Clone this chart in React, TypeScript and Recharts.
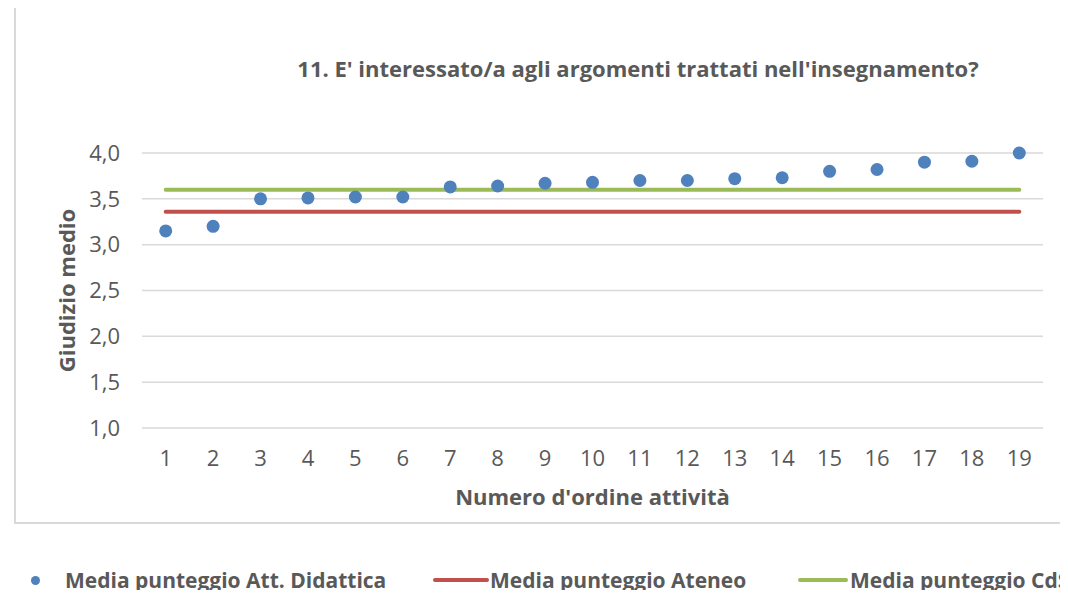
import { ComposedChart, Line, Scatter, XAxis, YAxis, CartesianGrid } from 'recharts';

// Numero d'ordine attività (asse X)
const categories = ['1', '2', '3', '4', '5', '6', '7', '8', '9', '10', '11', '12', '13', '14', '15', '16', '17', '18', '19'];

// Media punteggio Att. Didattica, una per attività
const attDidattica = [3.15, 3.2, 3.5, 3.51, 3.52, 3.52, 3.63, 3.64, 3.67, 3.68, 3.7, 3.7, 3.72, 3.73, 3.8, 3.82, 3.9, 3.91, 4.0];

// medie di riferimento (costanti su tutte le attività)
const mediaAteneo = [3.36, 3.36, 3.36, 3.36, 3.36, 3.36, 3.36, 3.36, 3.36, 3.36, 3.36, 3.36, 3.36, 3.36, 3.36, 3.36, 3.36, 3.36, 3.36];
const mediaCdS = [3.6, 3.6, 3.6, 3.6, 3.6, 3.6, 3.6, 3.6, 3.6, 3.6, 3.6, 3.6, 3.6, 3.6, 3.6, 3.6, 3.6, 3.6, 3.6];

const yTicks = [1, 1.5, 2, 2.5, 3, 3.5, 4];

const SERIES = [
  { key: 'att', name: 'Media punteggio Att. Didattica', color: '#4f81bd' },
  { key: 'ateneo', name: 'Media punteggio Ateneo', color: '#c0504d' },
  { key: 'cds', name: 'Media punteggio CdS', color: '#9bbb59' },
];

const FONT = '"Open Sans", Lato, sans-serif';
const TEXT = '#595959';

const data = categories.map((cat, i) => ({
  cat,
  att: attDidattica[i],
  ateneo: mediaAteneo[i],
  cds: mediaCdS[i],
}));

const fmt = (v: number) => v.toFixed(1).replace('.', ',');

export default function App() {
  return (
    <div style={{ position: 'relative', width: 1068, height: 598, overflow: 'hidden', margin: -8, background: '#fff', fontFamily: FONT }}>
      {/* riquadro dell'area grafico (il lato destro esce dall'immagine) */}
      <div
        style={{
          position: 'absolute',
          left: 14,
          top: 6,
          width: 1100,
          height: 518,
          borderTop: '2px solid #d9d9d9',
          borderLeft: '2px solid #d9d9d9',
          borderBottom: '2px solid #d9d9d9',
          boxSizing: 'border-box',
        }}
      />
      <div
        style={{
          position: 'absolute',
          left: 638,
          top: 53,
          transform: 'translateX(-50%)',
          whiteSpace: 'nowrap',
          fontSize: 22,
          fontWeight: 700,
          color: TEXT,
          lineHeight: '30px',
        }}
      >
        11. E' interessato/a agli argomenti trattati nell'insegnamento?
      </div>
      <div style={{ position: 'absolute', left: 0, top: 0 }}>
        <ComposedChart width={1100} height={598} data={data} margin={{ top: 153, right: 57, bottom: 90, left: 12 }}>
          <CartesianGrid vertical={false} stroke="#d9d9d9" strokeWidth={1.5} />
          <XAxis
            dataKey="cat"
            axisLine={false}
            tickLine={false}
            tickMargin={16}
            height={80}
            padding={{ left: 23.7, right: 23.7 }}
            tick={{ fontSize: 22, fill: TEXT, fontFamily: FONT }}
            label={{
              value: "Numero d'ordine attività",
              position: 'insideBottom',
              offset: 3,
              style: { fontSize: 22, fontWeight: 700, fill: TEXT, fontFamily: FONT },
            }}
          />
          <YAxis
            domain={[1, 4]}
            ticks={yTicks}
            tickFormatter={fmt}
            axisLine={false}
            tickLine={false}
            tickMargin={16}
            width={130}
            tick={{ fontSize: 22, fill: TEXT, fontFamily: FONT }}
            label={{
              value: 'Giudizio medio',
              angle: -90,
              position: 'center',
              dx: -10,
              style: { fontSize: 22, fontWeight: 700, fill: TEXT, fontFamily: FONT },
            }}
          />
          <Line dataKey="ateneo" stroke="#c0504d" strokeWidth={4} strokeLinecap="round" dot={false} activeDot={false} isAnimationActive={false} />
          <Line dataKey="cds" stroke="#9bbb59" strokeWidth={4} strokeLinecap="round" dot={false} activeDot={false} isAnimationActive={false} />
          <Scatter
            dataKey="att"
            fill="#4f81bd"
            isAnimationActive={false}
            shape={(p: any) => <circle cx={p.cx} cy={p.cy} r={6.5} fill="#4f81bd" />}
          />
        </ComposedChart>
      </div>
      {/* legenda */}
      <div style={{ position: 'absolute', left: 0, top: 565, width: 1100, height: 30, fontSize: 21, fontWeight: 700, color: TEXT, whiteSpace: 'nowrap', lineHeight: '30px' }}>
        <div style={{ position: 'absolute', left: 31, top: 11, width: 9, height: 9, borderRadius: '50%', background: SERIES[0].color }} />
        <div style={{ position: 'absolute', left: 65, top: 0 }}>{SERIES[0].name}</div>
        <div style={{ position: 'absolute', left: 433, top: 13, width: 56, height: 4, borderRadius: 2, background: SERIES[1].color }} />
        <div style={{ position: 'absolute', left: 490, top: 0 }}>{SERIES[1].name}</div>
        <div style={{ position: 'absolute', left: 798, top: 13, width: 50, height: 4, borderRadius: 2, background: SERIES[2].color }} />
        <div style={{ position: 'absolute', left: 850, top: 0 }}>{SERIES[2].name}</div>
      </div>
    </div>
  );
}
